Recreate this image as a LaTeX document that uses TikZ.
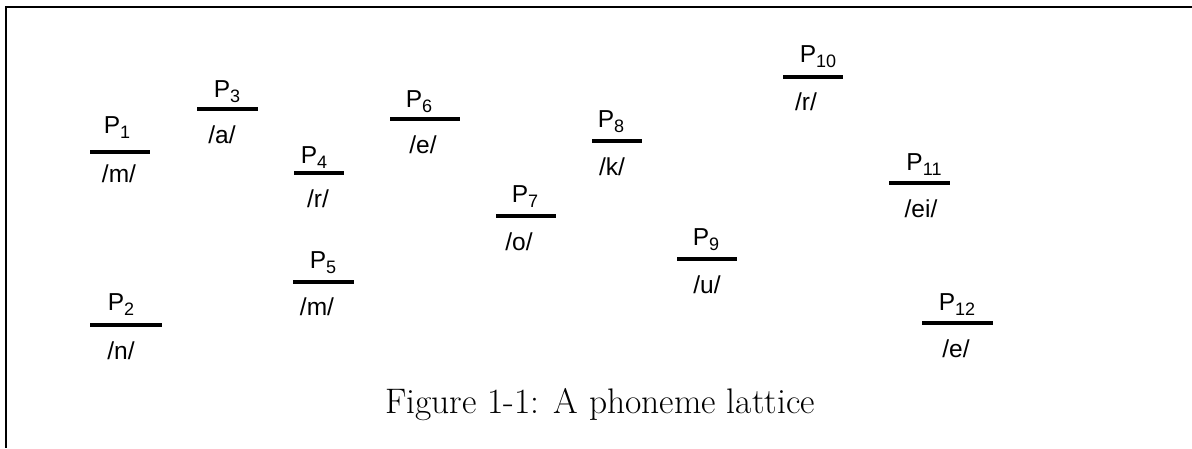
\documentclass[tikz,border=0pt]{standalone}
\usepackage{fontspec}
\setsansfont{Liberation Sans}
\newcommand{\Pn}[1]{P\raisebox{-5pt}{\fontsize{18}{18}\selectfont #1}}
\begin{document}
\begin{tikzpicture}[x=1pt,y=-1pt,
  bar/.style={fill=black,draw=none,inner sep=0pt,minimum height=4.5pt},
  plab/.style={anchor=base,inner sep=0pt,font=\sffamily\fontsize{24.5}{28}\selectfont},
  phon/.style={anchor=base,inner sep=0pt,font=\sffamily\fontsize{24.5}{28}\selectfont},
  captext/.style={anchor=base,inner sep=0pt,font=\rmfamily\fontsize{35.5}{40}\selectfont}]
\useasboundingbox (0,0) rectangle (1192,448);
\draw[line width=2.5pt] (1192,7) -- (6,7) -- (6,448);
% P1
\node[bar,minimum width=60pt] (b1) at (120,152) {};
\node[plab] (l1) at (117,133) {\Pn{1}};
\node[phon] (f1) at (119,182) {/m/};
% P2
\node[bar,minimum width=72pt] (b2) at (126,325) {};
\node[plab] (l2) at (121,310) {\Pn{2}};
\node[phon] (f2) at (121,359) {/n/};
% P3
\node[bar,minimum width=61pt] (b3) at (227,109) {};
\node[plab] (l3) at (227,97) {\Pn{3}};
\node[phon] (f3) at (222,143) {/a/};
% P4
\node[bar,minimum width=50pt] (b4) at (319,173) {};
\node[plab] (l4) at (314,163) {\Pn{4}};
\node[phon] (f4) at (318,207) {/r/};
% P5
\node[bar,minimum width=61pt] (b5) at (323,282) {};
\node[plab] (l5) at (323,268) {\Pn{5}};
\node[phon] (f5) at (317,315) {/m/};
% P6
\node[bar,minimum width=70pt] (b6) at (425,119) {};
\node[plab] (l6) at (419,107) {\Pn{6}};
\node[phon] (f6) at (423,153) {/e/};
% P7
\node[bar,minimum width=60pt] (b7) at (526,216) {};
\node[plab] (l7) at (525,202) {\Pn{7}};
\node[phon] (f7) at (519,250) {/o/};
% P8
\node[bar,minimum width=50pt] (b8) at (617,141) {};
\node[plab] (l8) at (611,127) {\Pn{8}};
\node[phon] (f8) at (612,175) {/k/};
% P9
\node[bar,minimum width=60pt] (b9) at (707,259) {};
\node[plab] (l9) at (706,245) {\Pn{9}};
\node[phon] (f9) at (707,293) {/u/};
% P10
\node[bar,minimum width=60pt] (b10) at (813,77) {};
\node[plab] (l10) at (818,62) {\Pn{10}};
\node[phon] (f10) at (806,110) {/r/};
% P11
\node[bar,minimum width=61pt] (b11) at (919,183) {};
\node[plab] (l11) at (924,170) {\Pn{11}};
\node[phon] (f11) at (921,217) {/ei/};
% P12
\node[bar,minimum width=71pt] (b12) at (957,323) {};
\node[plab] (l12) at (957,310) {\Pn{12}};
\node[phon] (f12) at (956,357) {/e/};
% caption
\node[captext] (caption) at (600,413) {Figure 1-1: A phoneme lattice};
\end{tikzpicture}
\end{document}
